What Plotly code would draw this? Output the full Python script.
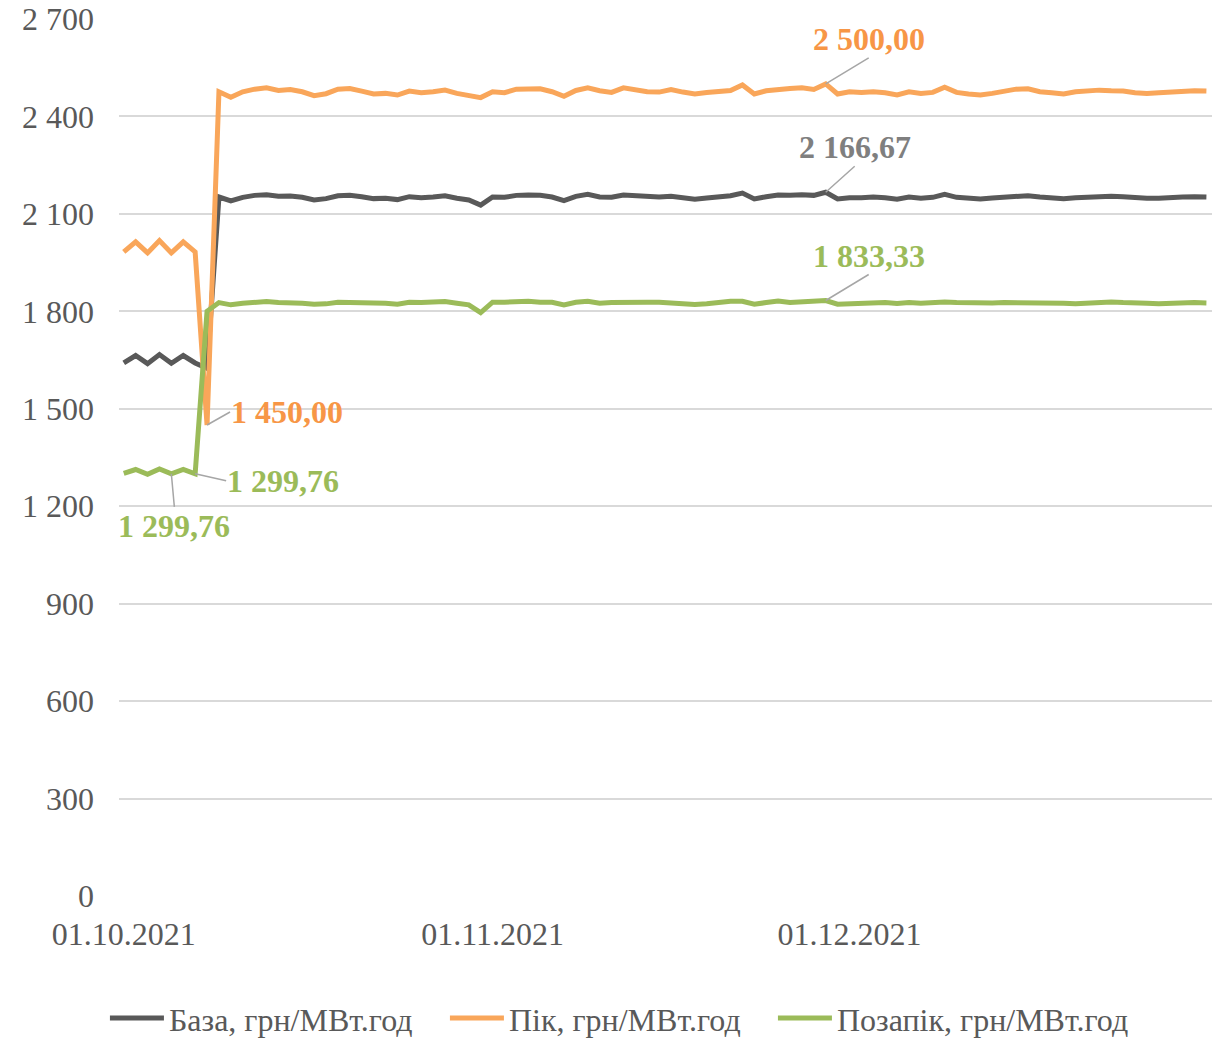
import pandas as pd
import plotly.graph_objects as go

# ---------------- data ----------------
dates = pd.date_range("2021-10-01", "2021-12-31", freq="D")

peak = [1983, 2014, 1980, 2018, 1980, 2014, 1983, 1450,
        2476, 2459, 2476, 2484, 2488, 2480, 2483, 2476, 2464, 2470,
        2484, 2486, 2478, 2469, 2471, 2466, 2478, 2473, 2476, 2481,
        2471, 2465, 2458, 2476, 2473, 2484, 2484, 2485, 2476, 2462,
        2480, 2488, 2479, 2474, 2488, 2482, 2476, 2475, 2483, 2475,
        2469, 2474, 2478, 2480, 2497, 2469, 2479, 2484, 2486, 2488,
        2483, 2500, 2469, 2476, 2474, 2476, 2473, 2466, 2476, 2471,
        2474, 2490, 2474, 2469, 2466, 2471, 2476, 2484, 2485, 2476,
        2473, 2469, 2476, 2478, 2481, 2479, 2478, 2473, 2471, 2473,
        2476, 2478, 2479, 2478]

offpeak = [1301, 1313, 1298, 1315, 1299.76, 1313, 1299.76, 1800,
           1827, 1820, 1825, 1829, 1830, 1827, 1827, 1825, 1822, 1823,
           1828, 1828, 1827, 1825, 1825, 1822, 1828, 1827, 1828, 1830,
           1825, 1820, 1796, 1828, 1828, 1830, 1831, 1828, 1828, 1820,
           1828, 1831, 1825, 1827, 1828, 1830, 1828, 1828, 1825, 1825,
           1821, 1823, 1827, 1831, 1831, 1822, 1827, 1832, 1827, 1830,
           1830, 1833.33, 1822, 1824, 1826, 1827, 1827, 1824, 1827, 1825,
           1827, 1829, 1827, 1826, 1825, 1826, 1827, 1827, 1827, 1827,
           1826, 1825, 1823, 1826, 1827, 1829, 1827, 1827, 1825, 1823,
           1825, 1826, 1827, 1826]

base = [1641, 1664, 1639, 1667, 1640, 1664, 1641, 1625,
        2152, 2140, 2151, 2157, 2159, 2154, 2155, 2151, 2143, 2147,
        2156, 2157, 2153, 2147, 2148, 2144, 2153, 2150, 2152, 2156,
        2148, 2143, 2127, 2152, 2151, 2157, 2158, 2157, 2152, 2141,
        2154, 2160, 2152, 2151, 2158, 2156, 2152, 2152, 2154, 2150,
        2145, 2149, 2153, 2156, 2164, 2146, 2153, 2158, 2157, 2159,
        2157, 2166.67, 2146, 2150, 2150, 2152, 2150, 2145, 2152, 2148,
        2151, 2160, 2151, 2148, 2146, 2149, 2152, 2156, 2156, 2152,
        2150, 2147, 2150, 2152, 2154, 2154, 2153, 2150, 2148, 2148,
        2151, 2152, 2153, 2152]

series_names = ["База, грн/МВт.год", "Пік, грн/МВт.год", "Позапік, грн/МВт.год"]
series_colors = ["#595959", "#F9A65A", "#9BBB59"]

y_tick_vals = [0, 300, 600, 900, 1200, 1500, 1800, 2100, 2400, 2700]
y_tick_text = ["0", "300", "600", "900", "1 200", "1 500", "1 800", "2 100", "2 400", "2 700"]
x_tick_vals = ["2021-10-01", "2021-11-01", "2021-12-01"]
x_tick_text = ["01.10.2021", "01.11.2021", "01.12.2021"]


def fmt(v):
    return f"{v:,.2f}".replace(",", " ").replace(".", ",")


FONT = "Liberation Serif, Times New Roman, serif"
TXT = 32

legend_ids = ["legend", "legend2", "legend3"]
legend_x = [0.0858, 0.3638, 0.6320]

fig = go.Figure()
for name, vals, col, lid in zip(series_names, [base, peak, offpeak], series_colors, legend_ids):
    fig.add_trace(go.Scatter(
        x=dates, y=vals, mode="lines", name=name, legend=lid,
        line=dict(color=col, width=5, shape="linear"),
    ))

# ---------------- annotations (data labels) ----------------
lead = "#A6A6A6"
labels = [
    # (series, index, color, xanchor, yanchor, ax, ay)
    (peak, 59, "#F79646", "center", "bottom", 43, -26),
    (base, 59, "#7F7F7F", "center", "bottom", 29, -26),
    (offpeak, 59, "#9BBB59", "center", "bottom", 43, -26),
    (peak, 7, "#F79646", "left", "middle", 23, -13),
    (offpeak, 6, "#9BBB59", "left", "middle", 31, 7),
    (offpeak, 4, "#9BBB59", "center", "top", 3, 33),
]
for ser, i, col, xa, ya, ax, ay in labels:
    fig.add_annotation(
        x=dates[i], y=ser[i], text=fmt(ser[i]),
        showarrow=True, arrowhead=0, arrowwidth=1.5, arrowcolor=lead,
        ax=ax, ay=ay, xanchor=xa, yanchor=ya, standoff=0, startstandoff=0,
        font=dict(family=FONT, size=TXT, color=col, weight="bold"),
        borderpad=0,
    )

legend_common = dict(
    orientation="h", xref="container", xanchor="left",
    yref="container", y=0.0190, yanchor="middle",
    font=dict(family=FONT, size=TXT, color="#595959"),
    itemwidth=54, bgcolor="rgba(0,0,0,0)",
)

fig.update_layout(
    template="none",
    width=1223, height=1038,
    margin=dict(l=119, r=11, t=19, b=142, autoexpand=False),
    paper_bgcolor="white", plot_bgcolor="white",
    font=dict(family=FONT, size=TXT, color="#595959"),
    showlegend=True,
    hovermode=False,
)
for lid, lx in zip(legend_ids, legend_x):
    fig.update_layout({lid: dict(legend_common, x=lx)})

fig.update_xaxes(
    range=["2021-09-30 14:24", "2021-12-31 11:17"],
    tickvals=x_tick_vals, ticktext=x_tick_text,
    showgrid=False, zeroline=False, showline=False, ticks="",
    tickfont=dict(family=FONT, size=TXT, color="#595959"),
    ticklabelstandoff=16, automargin=False,
)
fig.update_yaxes(
    range=[0, 2700],
    tickvals=y_tick_vals, ticktext=y_tick_text,
    showgrid=True, gridcolor="#D9D9D9", gridwidth=1.5,
    zeroline=False, showline=False, ticks="",
    tickfont=dict(family=FONT, size=TXT, color="#595959"),
    ticklabelstandoff=24, automargin=False,
)

fig.write_html("out.html", config={"displayModeBar": False},
               post_script="document.body.style.margin='0';")
